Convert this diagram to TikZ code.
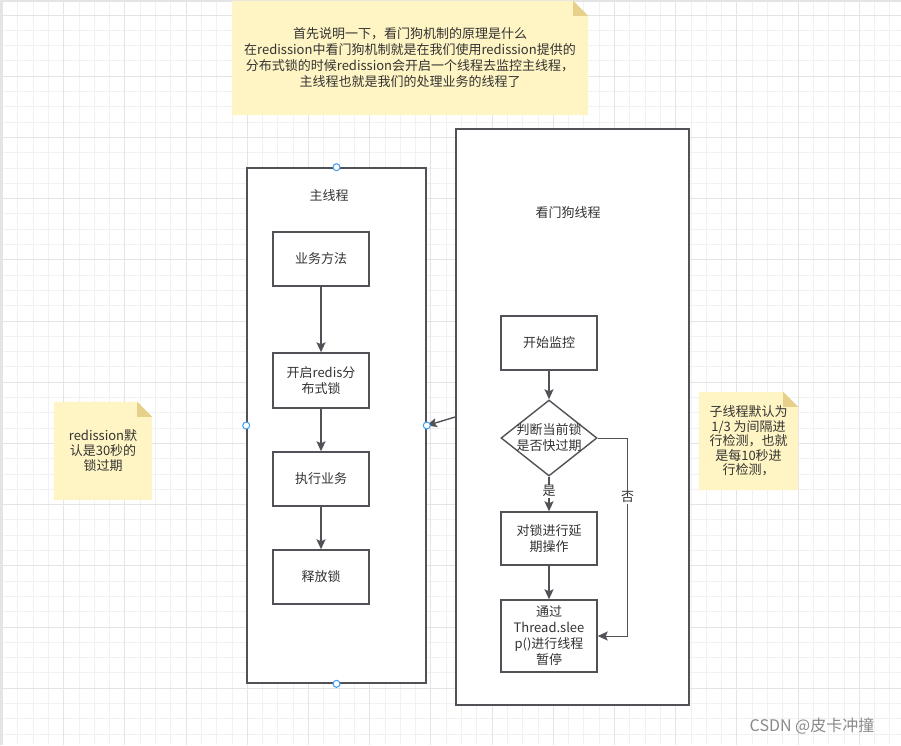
\documentclass[tikz,border=0pt]{standalone}
\usepackage{fontspec}
\setmainfont{Noto Sans CJK SC}
\usetikzlibrary{shapes.geometric,arrows.meta,calc,backgrounds}
\definecolor{lnc}{HTML}{505257}
\definecolor{txtc}{HTML}{333333}
\definecolor{notec}{HTML}{FFF4C3}
\definecolor{foldc}{HTML}{E6D08C}
\definecolor{conc}{HTML}{3D9AF5}
\definecolor{gridmin}{HTML}{F1F1F1}
\definecolor{gridmaj}{HTML}{E4E4E4}
\definecolor{markc}{HTML}{8A8A8A}
\tikzset{
  cont/.style={draw=lnc, line width=1.6pt, fill=white, inner sep=0pt},
  box/.style={draw=lnc, line width=1.4pt, fill=white, minimum width=96pt,
    minimum height=54pt, inner sep=2pt, align=center, text=txtc},
  flow/.style={draw=lnc, line width=1.4pt, -{Stealth[length=10pt,width=9pt,inset=2pt]}},
  conpt/.style={draw=conc, fill=white, line width=1pt},
  note/.style={align=center, text=txtc, inner sep=0pt},
  lbl/.style={fill=white, inner sep=1pt, text=txtc}
}
\begin{document}
\begin{tikzpicture}[x=1pt, y=-1pt, font=\fontsize{13}{16}\selectfont]
\useasboundingbox (0,0) rectangle (901,745);
% grid paper
\begin{scope}[on background layer]
\fill[white] (0,0) rectangle (901,745);
\foreach \k in {0,...,58}
  \draw[gridmin, line width=1pt] ({2.5+15.3*\k},0) -- ({2.5+15.3*\k},745);
\foreach \k in {0,...,48}
  \draw[gridmin, line width=1pt] (0,{15+15.3*\k}) -- (901,{15+15.3*\k});
\foreach \k in {0,4,...,56}
  \draw[gridmaj, line width=1pt] ({2.5+15.3*\k},0) -- ({2.5+15.3*\k},745);
\foreach \k in {0,4,...,48}
  \draw[gridmaj, line width=1pt] (0,{15+15.3*\k}) -- (901,{15+15.3*\k});
\fill[gridmaj] (0,0) rectangle (3,745);
\fill[gridmaj] (0,0) rectangle (901,2);
\end{scope}

% notes
\node[note, minimum width=356pt, minimum height=114pt] (topnote) at (410,58) {首先说明一下，看门狗机制的原理是什么\\在redission中看门狗机制就是在我们使用redission提供的\\分布式锁的时候redission会开启一个线程去监控主线程，\\主线程也就是我们的处理业务的线程了};
\node[note, minimum width=98pt, minimum height=98pt, font=\fontsize{13}{15}\selectfont] (leftnote) at (103,451) {redission默\\认是30秒的\\锁过期};
\node[note, minimum width=99pt, minimum height=98pt, font=\fontsize{13}{14.5}\selectfont] (rightnote) at (748.5,441) {子线程默认为\\1/3 为间隔进\\行检测，也就\\是每10秒进\\行检测，};
\begin{scope}[on background layer]
\foreach \n in {topnote,leftnote,rightnote} {
  \fill[notec] (\n.south west) -- (\n.north west) -- ($(\n.north east)+(-15,0)$)
    -- ($(\n.north east)+(0,15)$) -- (\n.south east) -- cycle;
  \fill[foldc] ($(\n.north east)+(-15,0)$) -- ($(\n.north east)+(-15,15)$)
    -- ($(\n.north east)+(0,15)$) -- cycle;
}
\end{scope}

% threads
\node[cont, minimum width=179pt, minimum height=515pt] (mainthr) at (336.5,425.5) {};
\node[cont, minimum width=233pt, minimum height=576pt] (dogthr) at (572.5,417) {};
\node[text=txtc] (maintit) at (329,196) {主线程};
\node[text=txtc] (dogtit) at (568,213) {看门狗线程};

% main thread steps
\node[box] (biz) at (321,259) {业务方法};
\node[box, minimum height=55pt] (lock) at (321,380.5) {开启redis分\\布式锁};
\node[box] (exec) at (321,479) {执行业务};
\node[box] (unlock) at (321,577) {释放锁};

% watchdog steps
\node[box] (watch) at (549,343) {开始监控};
\node[diamond, draw=lnc, line width=1.4pt, fill=white, minimum width=96pt,
  minimum height=76pt, inner sep=0pt,
  label={[align=center, text=txtc]center:判断当前锁\\是否快过期}] (chk) at (549,438) {};
\node[box, minimum height=53pt] (ext) at (549,538.5) {对锁进行延\\期操作};
\node[box, minimum height=72pt] (sleep) at (549,636) {通过\\Thread.slee\\p()进行线程\\暂停};

\draw[flow] (biz) -- (lock);
\draw[flow] (lock) -- (exec);
\draw[flow] (exec) -- (unlock);
\draw[flow] (watch) -- (chk);
\draw[flow] (chk) -- node[lbl, pos=0.42] {是} (ext);
\draw[flow] (ext) -- (sleep);
\draw[flow, line width=1pt] (chk.east) -- ++(30,0) |- node[lbl, pos=0.15] {否} (sleep.east);
\draw[flow] (dogthr.west) -- (mainthr.east);
\foreach \a in {north,south,west,east}
  \draw[conpt] (mainthr.\a) circle (3.5pt);

\node[text=markc, font=\fontsize{16}{18}\selectfont] (mark) at (812,726) {CSDN @皮卡冲撞};
\end{tikzpicture}
\end{document}
